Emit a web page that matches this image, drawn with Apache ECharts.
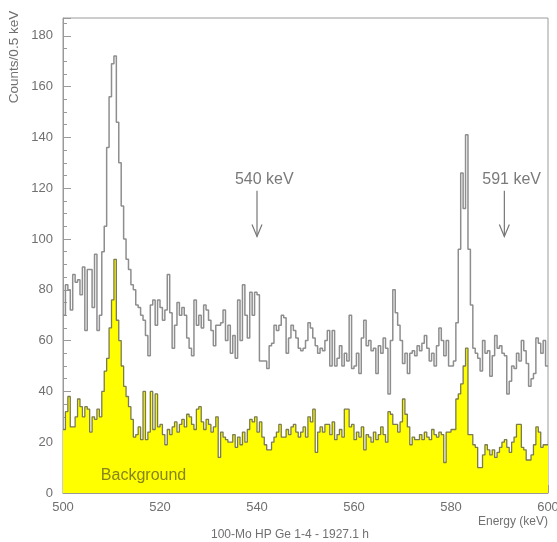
<!DOCTYPE html>
<html>
<head>
<meta charset="utf-8">
<script src="https://cdn.jsdelivr.net/npm/echarts@6/dist/echarts.min.js"></script>
<style>
  html, body { margin: 0; padding: 0; background: #fff; }
  #chart { width: 557px; height: 542px; }
</style>
</head>
<body>
<div id="chart"></div>
<script>
// 100-Mo HP Ge spectrum, 0.5 keV bins from 500 to 600 keV
const binStart = 500;
const binWidth = 0.5;

// total spectrum (gray outline)
const totalCounts = [
  70, 82, 80, 72, 86, 83, 84, 78, 89, 64, 88, 88, 73, 94, 64, 70, 95, 105, 136, 156,
  169, 172, 146, 130, 113, 100, 92, 88, 82, 80, 74, 73, 70, 68, 62, 54, 74, 76, 66, 76,
  73, 68, 72, 86, 71, 57, 66, 75, 70, 73, 70, 61, 57, 54, 76, 66, 70, 65, 74, 72,
  68, 64, 58, 66, 66, 67, 72, 60, 66, 55, 62, 53, 76, 60, 82, 70, 61, 79, 70, 79,
  78, 52, 52, 52, 49, 58, 59, 66, 64, 66, 70, 69, 55, 61, 66, 64, 61, 57, 56, 57,
  60, 67, 65, 61, 58, 55, 57, 56, 60, 64, 50, 64, 50, 53, 58, 50, 55, 52, 70, 49,
  50, 55, 47, 61, 68, 58, 60, 56, 57, 47, 58, 55, 61, 57, 39, 60, 80, 71, 66, 60,
  51, 55, 47, 55, 56, 54, 58, 56, 59, 62, 57, 52, 55, 50, 58, 65, 60, 54, 60, 50,
  50, 52, 67, 96, 126, 112, 141, 96, 74, 57, 55, 53, 48, 60, 55, 56, 46, 54, 62, 57,
  58, 55, 54, 39, 44, 50, 49, 55, 52, 60, 56, 51, 42, 45, 47, 61, 59, 55, 60, 50
];

// background spectrum (yellow)
const backgroundCounts = [
  25, 32, 38, 26, 26, 30, 37, 34, 30, 34, 33, 24, 30, 29, 33, 30, 40, 48, 53, 65,
  76, 92, 68, 60, 50, 42, 38, 34, 29, 22, 23, 26, 21, 40, 21, 24, 40, 25, 39, 26,
  27, 23, 19, 25, 23, 26, 28, 24, 27, 29, 26, 31, 30, 27, 25, 33, 34, 28, 25, 29,
  27, 24, 26, 30, 14, 24, 22, 21, 20, 20, 23, 18, 22, 19, 24, 20, 25, 29, 28, 30,
  24, 28, 22, 19, 17, 17, 20, 22, 24, 27, 22, 22, 25, 23, 26, 27, 24, 22, 24, 26,
  22, 30, 28, 33, 16, 24, 26, 24, 27, 27, 23, 28, 21, 23, 25, 22, 33, 33, 26, 27,
  21, 24, 22, 26, 17, 23, 22, 20, 24, 21, 23, 26, 23, 20, 32, 31, 27, 27, 24, 28,
  37, 31, 26, 19, 22, 21, 21, 23, 21, 24, 22, 21, 25, 23, 22, 24, 23, 12, 24, 24,
  25, 25, 37, 39, 43, 50, 57, 23, 23, 19, 18, 10, 10, 15, 19, 17, 15, 17, 14, 16,
  18, 20, 21, 18, 16, 20, 22, 27, 27, 18, 17, 13, 13, 15, 19, 26, 24, 18, 19, 19
];

// lines of interest marked with arrows
const markedLines = [540, 591];
const markedLabels = ['540 keV', '591 keV'];

const xTicks = [500, 520, 540, 560, 580, 600];
const yMax = 187;

function toSteps(counts) {
  const pts = counts.map((c, i) => [binStart + i * binWidth, c]);
  pts.push([binStart + counts.length * binWidth, counts[counts.length - 1]]);
  return pts;
}

const axisGray = '#9a9a9a';
const textGray = '#707070';
const font = 'Liberation Sans, Arial, sans-serif';

const myChart = echarts.init(document.getElementById('chart'));
const option = {
  animation: false,
  grid: {
    left: 63, right: 9, top: 18, bottom: 49,
    outerBoundsMode: 'none',
    containLabel: false,
    show: true,
    borderColor: axisGray,
    borderWidth: 1
  },
  xAxis: {
    type: 'value',
    min: xTicks[0],
    max: xTicks[xTicks.length - 1],
    interval: 20,
    axisLine: { show: true, lineStyle: { color: axisGray } },
    axisTick: { inside: true, length: 8, lineStyle: { color: axisGray } },
    minorTick: { show: true, splitNumber: 4, length: 4, lineStyle: { color: axisGray } },
    splitLine: { show: false },
    axisLabel: { color: textGray, fontSize: 13, fontFamily: font, margin: 8 }
  },
  yAxis: {
    type: 'value',
    min: 0,
    max: yMax,
    interval: 20,
    axisLine: { show: true, lineStyle: { color: axisGray } },
    axisTick: { inside: true, length: 8, lineStyle: { color: axisGray } },
    minorTick: { show: true, splitNumber: 4, length: 4, lineStyle: { color: axisGray } },
    splitLine: { show: false },
    axisLabel: { color: textGray, fontSize: 13, fontFamily: font, margin: 10, showMaxLabel: false }
  },
  series: [
    {
      name: 'Background',
      type: 'line',
      step: 'end',
      symbol: 'none',
      data: toSteps(backgroundCounts),
      lineStyle: { color: '#7b7b50', width: 1.3 },
      areaStyle: { color: '#ffff00', opacity: 1 },
      z: 2
    },
    {
      name: 'Total',
      type: 'line',
      step: 'end',
      symbol: 'none',
      data: toSteps(totalCounts),
      lineStyle: { color: '#8e8e8e', width: 1.5 },
      z: 3
    }
  ]
};
myChart.setOption(option);

// annotations placed through the axis scales
const graphics = [];
markedLines.forEach((e, i) => {
  const top = myChart.convertToPixel({ gridIndex: 0 }, [e, 119]);
  const tip = myChart.convertToPixel({ gridIndex: 0 }, [e, 101]);
  const txt = myChart.convertToPixel({ gridIndex: 0 }, [e + 1.5, 123.5]);
  graphics.push({
    type: 'polyline',
    shape: { points: [top, tip] },
    style: { stroke: '#777', lineWidth: 1.2, fill: null }
  });
  graphics.push({
    type: 'polyline',
    shape: { points: [[tip[0] - 5, tip[1] - 12], tip, [tip[0] + 5, tip[1] - 12]] },
    style: { stroke: '#777', lineWidth: 1.2, fill: null }
  });
  graphics.push({
    type: 'text',
    x: txt[0], y: txt[1],
    style: { text: markedLabels[i], fill: '#7a7a7a', font: '16px ' + font, textAlign: 'center', textVerticalAlign: 'middle' }
  });
});

const bgPos = myChart.convertToPixel({ gridIndex: 0 }, [507.8, 6.8]);
graphics.push({
  type: 'text',
  x: bgPos[0], y: bgPos[1],
  style: { text: 'Background', fill: '#85851c', font: '16px ' + font, textVerticalAlign: 'middle' },
  z: 10
});
graphics.push({
  type: 'text',
  x: 14, y: 57, rotation: Math.PI / 2,
  style: { text: 'Counts/0.5 keV', fill: textGray, font: '13.5px ' + font, textAlign: 'center', textVerticalAlign: 'middle' }
});
graphics.push({
  type: 'text',
  x: 548, y: 522,
  style: { text: 'Energy (keV)', fill: textGray, font: '12px ' + font, textAlign: 'right', textVerticalAlign: 'middle' }
});
graphics.push({
  type: 'text',
  x: 290, y: 535,
  style: { text: '100-Mo HP Ge 1-4 - 1927.1 h', fill: textGray, font: '12px ' + font, textAlign: 'center', textVerticalAlign: 'middle' }
});
myChart.setOption({ graphic: graphics });

window.addEventListener('resize', () => {
  myChart.resize();
});
</script>
</body>
</html>
